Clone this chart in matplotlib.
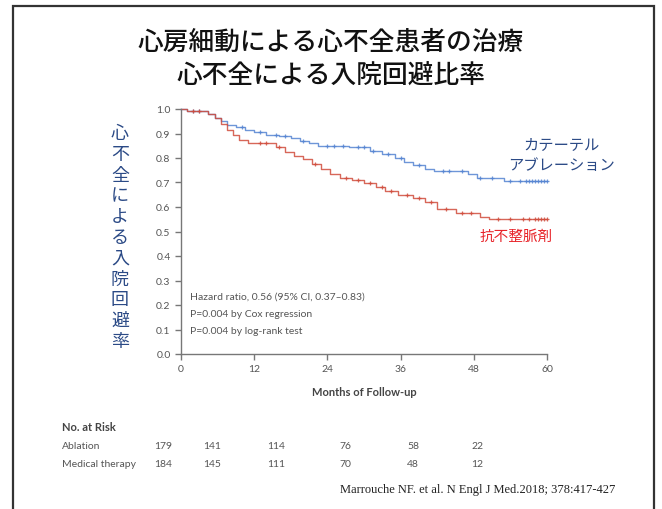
import numpy as np
import matplotlib.pyplot as plt
from matplotlib.patches import Rectangle

plt.rcParams['font.family'] = ['Noto Sans CJK JP', 'DejaVu Sans']

# Kaplan-Meier steps (months, fraction free of heart-failure admission)
abl_t = [0, 1, 4.5, 5.5, 6.5, 7.5, 9, 10.5, 12, 14, 16, 18, 19.5, 21, 22.5,
         27.5, 31, 33, 35, 36.5, 38, 40, 41.5, 47, 48.5, 53, 60]
abl_s = [1.0, 0.99, 0.98, 0.965, 0.95, 0.935, 0.925, 0.915, 0.905, 0.895, 0.89,
         0.88, 0.87, 0.86, 0.85, 0.845, 0.83, 0.815, 0.80, 0.785, 0.77, 0.755,
         0.745, 0.735, 0.72, 0.705, 0.705]
med_t = [0, 1, 4.5, 5.5, 6.5, 7.5, 8.5, 9.5, 11, 15.5, 17, 18.5, 20, 21.5, 23,
         24.5, 26, 28, 30, 32, 33.5, 35.5, 38, 40, 42, 45, 49, 50.5, 60]
med_s = [1.0, 0.99, 0.98, 0.965, 0.94, 0.915, 0.895, 0.875, 0.86, 0.845, 0.825,
         0.81, 0.795, 0.775, 0.755, 0.735, 0.72, 0.71, 0.70, 0.68, 0.665, 0.65,
         0.635, 0.62, 0.59, 0.575, 0.56, 0.55, 0.55]

# censoring times
abl_cens = [2, 3, 10, 13, 15.5, 17, 20, 24, 25, 26.5, 29, 30, 31.5, 34, 36, 39,
            43, 44, 46, 49, 51, 54, 55.5, 56.5, 57, 57.5, 58, 58.5, 59, 59.5, 60]
med_cens = [2, 3, 13, 14, 16, 22, 27, 29, 31, 33, 34.5, 37, 39, 41, 43.5, 46,
            47.5, 52, 54, 56, 57, 58, 58.5, 59, 59.5, 60]

risk_groups = ['Ablation', 'Medical therapy']
risk_abl = [179, 141, 114, 76, 58, 22]
risk_med = [184, 145, 111, 70, 48, 12]

stats_lines = ['Hazard ratio, 0.56 (95% CI, 0.37\u20130.83)',
               'P=0.004 by Cox regression',
               'P=0.004 by log-rank test']

W, H = 662, 510
fig = plt.figure(figsize=(W / 100, H / 100), dpi=100)
fig.patch.set_facecolor('white')

# frame around the slide
fig.patches.append(Rectangle((13 / W, -0.05), (654 - 13) / W, 1.05 - 7 / H,
                             transform=fig.transFigure, fill=False,
                             edgecolor='#333333', linewidth=1.6))

ax = fig.add_axes([181 / W, 1 - 355 / H, (547 - 181) / W, (355 - 110) / H])

blue = '#5584d2'
red = '#d04c3c'


def km(t, s, cens, color):
    ax.step(t, s, where='post', color=color, linewidth=1.0, alpha=0.85,
            clip_on=False)
    idx = np.searchsorted(t, cens, side='right') - 1
    ax.plot(cens, np.array(s)[idx], '+', color=color, markersize=3,
            markeredgewidth=0.9, clip_on=False, alpha=0.85)


km(abl_t, abl_s, abl_cens, blue)
km(med_t, med_s, med_cens, red)

ax.set_xlim(0, 60)
ax.set_ylim(0, 1.0)
ax.set_xticks(np.arange(0, 61, 12))
ax.set_yticks(np.arange(0, 1.01, 0.1))
ax.set_yticklabels([f'{v:.1f}' for v in np.arange(0, 1.01, 0.1)])
for side in ['top', 'right']:
    ax.spines[side].set_visible(False)
for side in ['left', 'bottom']:
    ax.spines[side].set_color('#777777')
    ax.spines[side].set_linewidth(1.0)
ax.tick_params(colors='#777777', length=4, width=1.0, labelsize=7.5,
               labelcolor='#555555')
for lab in ax.get_xticklabels() + ax.get_yticklabels():
    lab.set_family('Lato')
ax.set_xlabel('Months of Follow-up', family='Lato', fontsize=8,
              fontweight='bold', color='#444444', labelpad=9)

for i, line in enumerate(stats_lines):
    fig.text(190 / W, 1 - (297 + 17.5 * i) / H, line, family='Lato',
             fontsize=7.5, color='#555555', va='center')

# titles
fig.text(331 / W, 1 - 42 / H, '心房細動による心不全患者の治療', ha='center',
         va='center', fontsize=18.5, color='#111111', fontweight='medium')
fig.text(331 / W, 1 - 76 / H, '心不全による入院回避比率', ha='center',
         va='center', fontsize=18.5, color='#111111', fontweight='medium')

# vertical y-axis label, one character per line
fig.text(120 / W, 1 - 238 / H, '\n'.join('心不全による入院回避率'),
         ha='center', va='center', fontsize=13, color='#2b4a86',
         linespacing=1.2)

fig.text(561 / W, 1 - 155 / H, 'カテーテル\nアブレーション', ha='center',
         va='center', fontsize=11, color='#2b4a86', linespacing=1.25)
fig.text(516 / W, 1 - 237 / H, '抗不整脈剤', ha='center', va='center',
         fontsize=10.5, color='#e8242a')

# number at risk table
fig.text(62 / W, 1 - 428 / H, 'No. at Risk', family='Lato', fontsize=8,
         fontweight='bold', color='#444444', va='center')
cols = [163, 212, 276, 345, 413, 477]
for row, (name, vals) in enumerate(zip(risk_groups, [risk_abl, risk_med])):
    y = 1 - (447 + 17.5 * row) / H
    fig.text(62 / W, y, name, family='Lato', fontsize=7.5, color='#555555',
             va='center')
    for x, v in zip(cols, vals):
        fig.text(x / W, y, str(v), family='Lato', fontsize=7.5,
                 color='#555555', va='center', ha='center')

fig.text(615 / W, 1 - 490 / H,
         'Marrouche NF. et al. N Engl J Med.2018; 378:417-427',
         family='Liberation Serif', fontsize=9, color='#222222',
         ha='right', va='center')

fig.savefig('out.png', dpi=100)
